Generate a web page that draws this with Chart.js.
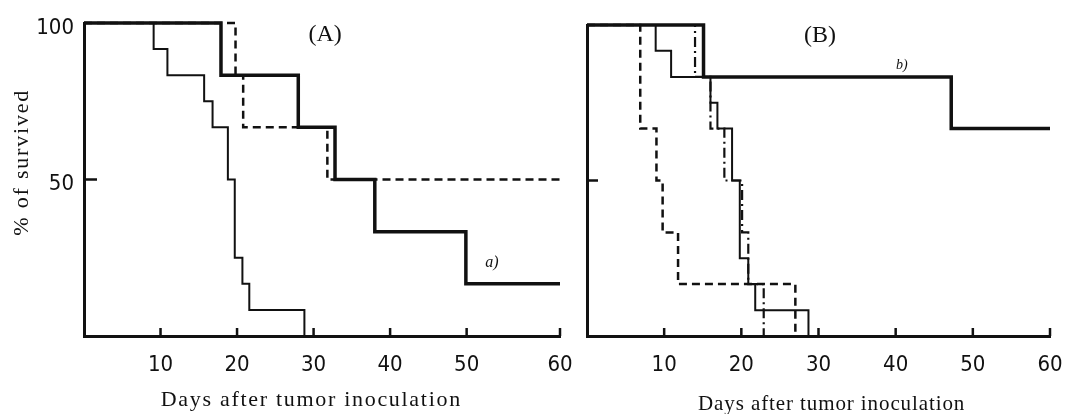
<!DOCTYPE html>
<html>
<head>
<meta charset="utf-8">
<title>Survival after tumor inoculation</title>
<script src="https://cdn.jsdelivr.net/npm/chart.js@4.4.0/dist/chart.umd.min.js"></script>
<style>
  html, body { margin: 0; padding: 0; background: #fff; overflow: hidden; }
  #wrap { position: relative; width: 1071px; height: 414px; overflow: hidden; }
  .panel { position: absolute; top: 0; height: 414px; }
  #panel-a { left: 0; width: 588px; }
  #panel-b { left: 572px; width: 506px; }
</style>
</head>
<body>
<div id="wrap">
  <div class="panel" id="panel-a"><canvas id="chart-a"></canvas></div>
  <div class="panel" id="panel-b"><canvas id="chart-b"></canvas></div>
</div>
<script>
// tick values and labels (panel A is hand drawn: its "60" sits at the axis end)
var X_TICK_LABELS = ['10', '20', '30', '40', '50', '60'];
var A_X_TICKS = [10, 20, 30, 40, 50, 62.2];
var B_X_TICKS = [10, 20, 30, 40, 50, 60];
var A_X_END = 62.2;
var B_X_END = 60;
var Y_TICKS = [50, 100];
var Y_TICK_LABELS = ['50', '100'];

// (A) survival curves: day of each step, % survived from that day on
var aThickDays = [0, 17.9, 28.0, 32.8, 38.0, 49.9, 62.2];
var aThickSurv = [100, 83.3, 66.7, 50, 33.3, 16.7, 16.7];
var aDashedDays = [0, 19.8, 20.8, 31.8, 62.2];
var aDashedSurv = [100, 83.3, 66.7, 50, 50];
var aThinDays = [0, 9.1, 10.9, 15.7, 16.8, 18.8, 19.7, 20.7, 21.6, 28.8];
var aThinSurv = [100, 91.7, 83.3, 75, 66.7, 50, 25, 16.7, 8.3, 0];

// (B)
var bThickDays = [0, 15.1, 47.2, 60];
var bThickSurv = [100, 83.3, 66.7, 66.7];
var bThinDays = [0, 8.9, 10.9, 16.0, 16.9, 18.8, 19.8, 20.9, 21.8, 28.7];
var bThinSurv = [100, 91.7, 83.3, 75, 66.7, 50, 25, 16.7, 8.3, 0];
var bDashedDays = [0, 6.9, 9.0, 9.8, 11.8, 27.0];
var bDashedSurv = [100, 66.7, 50, 33.3, 16.7, 0];
var bDashDotDays = [0, 14.0, 16.0, 17.8, 20.1, 20.9, 22.9];
var bDashDotSurv = [100, 83.3, 66.7, 50, 33.3, 16.7, 0];

(function () {
  var INK = '#111';
  var SERIF = '"Liberation Serif", "DejaVu Serif", serif';
  var TICK_FONT = { family: '"DejaVu Sans Condensed", "DejaVu Sans", sans-serif', size: 22 };

  var STYLES = {
    thick: { borderWidth: 3.5, borderDash: [] },
    thin: { borderWidth: 2, borderDash: [] },
    dashed: { borderWidth: 2.5, borderDash: [8, 5] },
    dashDot: { borderWidth: 2.2, borderDash: [10, 4, 2, 4] }
  };

  function toPoints(days, surv) {
    return days.map(function (d, i) {
      return { x: d, y: surv[i] };
    });
  }

  function series(days, surv, styleName) {
    var style = STYLES[styleName];
    return {
      data: toPoints(days, surv),
      borderColor: INK,
      borderWidth: style.borderWidth,
      borderDash: style.borderDash,
      borderCapStyle: 'butt',
      borderJoinStyle: 'miter',
      stepped: true,
      pointRadius: 0,
      fill: false,
      clip: false
    };
  }

  // short tick marks pointing into the plot, as in the original
  var inwardTicks = {
    id: 'inwardTicks',
    afterDatasetsDraw: function (chart, args, opts) {
      var ctx = chart.ctx;
      var xs = chart.scales.x;
      var ys = chart.scales.y;
      var area = chart.chartArea;
      ctx.save();
      ctx.strokeStyle = INK;
      ctx.lineWidth = 2.5;
      ctx.beginPath();
      xs.ticks.forEach(function (t) {
        var px = xs.getPixelForValue(t.value);
        ctx.moveTo(px, area.bottom);
        ctx.lineTo(px, area.bottom - opts.xLen);
      });
      opts.yValues.forEach(function (v) {
        var py = ys.getPixelForValue(v);
        ctx.moveTo(area.left, py);
        ctx.lineTo(area.left + opts.yLen, py);
      });
      ctx.stroke();
      ctx.restore();
    }
  };

  // free text placed in data units through the chart's scales
  var panelText = {
    id: 'panelText',
    afterDraw: function (chart, args, opts) {
      var ctx = chart.ctx;
      var xs = chart.scales.x;
      var ys = chart.scales.y;
      (opts.items || []).forEach(function (item) {
        ctx.save();
        ctx.translate(xs.getPixelForValue(item.x), ys.getPixelForValue(item.y));
        if (item.rotate) ctx.rotate(item.rotate);
        ctx.font = item.font;
        ctx.letterSpacing = item.spacing || '0px';
        ctx.fillStyle = INK;
        ctx.textAlign = 'center';
        ctx.textBaseline = 'middle';
        ctx.fillText(item.text, 0, 0);
        ctx.restore();
      });
    }
  };

  function makeChart(canvasId, cfg) {
    return new Chart(document.getElementById(canvasId), {
      type: 'line',
      data: { datasets: cfg.datasets },
      options: {
        responsive: true,
        maintainAspectRatio: false,
        animation: false,
        events: [],
        layout: { padding: cfg.padding },
        scales: {
          x: {
            type: 'linear',
            min: 0,
            max: cfg.xEnd,
            grid: { display: false },
            border: { display: true, color: INK, width: 3 },
            afterBuildTicks: function (scale) {
              scale.ticks = cfg.xTicks.map(function (v) { return { value: v }; });
            },
            afterFit: function (scale) {
              scale.height = cfg.xAxisHeight;
            },
            ticks: {
              autoSkip: false,
              maxRotation: 0,
              padding: 8,
              color: INK,
              font: TICK_FONT,
              callback: function (value, index) {
                return X_TICK_LABELS[index];
              }
            }
          },
          y: {
            type: 'linear',
            min: 0,
            max: 100,
            grid: { display: false },
            border: { display: true, color: INK, width: 3 },
            afterBuildTicks: function (scale) {
              scale.ticks = Y_TICKS.map(function (v) { return { value: v }; });
            },
            afterFit: function (scale) {
              scale.width = cfg.yAxisWidth;
            },
            ticks: {
              display: cfg.showYLabels,
              padding: 2,
              labelOffset: 5,
              color: INK,
              font: TICK_FONT,
              callback: function (value, index) {
                return Y_TICK_LABELS[index];
              }
            }
          }
        },
        plugins: {
          legend: { display: false },
          tooltip: { enabled: false },
          inwardTicks: { xLen: 8, yLen: cfg.yTickLen, yValues: [50] },
          panelText: { items: cfg.texts }
        }
      },
      plugins: [inwardTicks, panelText]
    });
  }

  makeChart('chart-a', {
    datasets: [
      series(aThickDays, aThickSurv, 'thick'),
      series(aDashedDays, aDashedSurv, 'dashed'),
      series(aThinDays, aThinSurv, 'thin')
    ],
    xEnd: A_X_END,
    xTicks: A_X_TICKS,
    padding: { top: 23, right: 28, bottom: 0, left: 0 },
    yAxisWidth: 84,
    xAxisHeight: 78,
    showYLabels: true,
    yTickLen: 13,
    texts: [
      { text: '(A)', x: 31.5, y: 96.2, font: '24px ' + SERIF },
      { text: 'a)', x: 53.3, y: 23.5, font: 'italic 16px ' + SERIF },
      { text: '% of survived', x: -8.1, y: 55.5, rotate: -Math.PI / 2, font: '22px ' + SERIF, spacing: '1.8px' },
      { text: 'Days after tumor inoculation', x: 29.7, y: -20.6, font: '22px ' + SERIF, spacing: '1.7px' }
    ]
  });

  makeChart('chart-b', {
    datasets: [
      series(bThickDays, bThickSurv, 'thick'),
      series(bThinDays, bThinSurv, 'thin'),
      series(bDashedDays, bDashedSurv, 'dashed'),
      series(bDashDotDays, bDashDotSurv, 'dashDot')
    ],
    xEnd: B_X_END,
    xTicks: B_X_TICKS,
    padding: { top: 25, right: 28, bottom: 0, left: 0 },
    yAxisWidth: 15,
    xAxisHeight: 78,
    showYLabels: false,
    yTickLen: 11,
    texts: [
      { text: '(B)', x: 30.2, y: 96.7, font: '24px ' + SERIF },
      { text: 'b)', x: 40.8, y: 87.1, font: 'italic 14px ' + SERIF },
      { text: 'Days after tumor inoculation', x: 31.7, y: -22.1, font: '21px ' + SERIF, spacing: '0.9px' }
    ]
  });
})();
</script>
</body>
</html>
